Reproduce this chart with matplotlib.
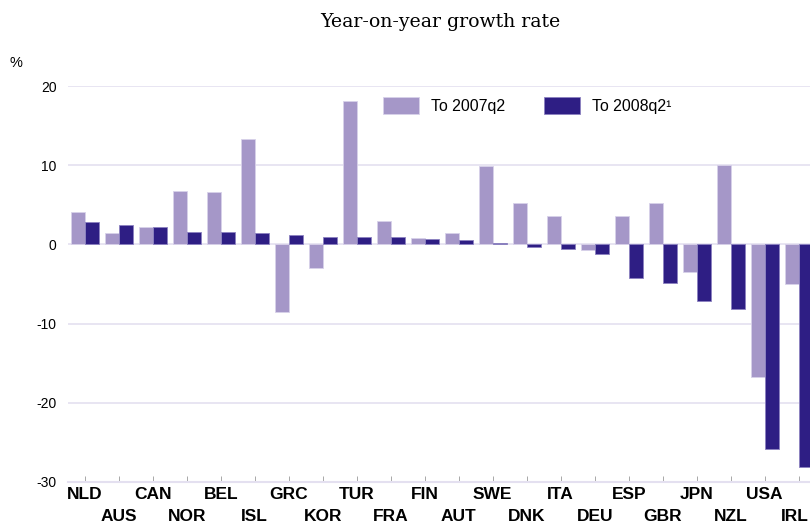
import numpy as np
import matplotlib.pyplot as plt
from matplotlib import font_manager

countries = ['NLD', 'AUS', 'CAN', 'NOR', 'BEL', 'ISL', 'GRC', 'KOR', 'TUR', 'FRA', 'FIN',
             'AUT', 'SWE', 'DNK', 'ITA', 'DEU', 'ESP', 'GBR', 'JPN', 'NZL', 'USA', 'IRL']
to_2007q2 = [4.1, 1.4, 2.2, 6.7, 6.6, 13.3, -8.5, -3.0, 18.2, 3.0, 0.8,
             1.5, 9.9, 5.2, 3.6, -0.7, 3.6, 5.2, -3.5, 10.1, -16.7, -5.0]
to_2008q2 = [2.9, 2.4, 2.2, 1.6, 1.6, 1.4, 1.2, 1.0, 0.9, 0.9, 0.7,
             0.6, 0.2, -0.3, -0.6, -1.2, -4.2, -4.9, -7.2, -8.2, -25.9, -28.1]
yticks = [-30, -20, -10, 0, 10, 20]

light = '#a597c8'
dark = '#2e1e84'
gridc = '#e4e0f0'

names = {f.name for f in font_manager.fontManager.ttflist}
narrow = 'Liberation Sans Narrow' if 'Liberation Sans Narrow' in names else 'Liberation Sans'

fig = plt.figure(figsize=(8.1, 5.24), dpi=100)
ax = fig.add_axes([67.7 / 810, 42.3 / 524, 748 / 810, 395.4 / 524])

x = np.arange(len(countries))
w = 0.41
ax.bar(x - w / 2, to_2007q2, w, color=light, edgecolor='#d8d2ea', linewidth=0.6,
       label='To 2007q2', zorder=3)
ax.bar(x + w / 2, to_2008q2, w, color=dark, edgecolor='#8c82c0', linewidth=0.6,
       label='To 2008q2\u00b9', zorder=3)

ax.set_xlim(-0.5, len(countries) - 0.5)
ax.set_ylim(-30, 20)
ax.set_yticks(yticks)
ax.set_yticklabels([str(v) for v in yticks], fontsize=10, family='Liberation Sans')
ax.tick_params(axis='y', length=0, pad=8)
for v in yticks[1:]:
    ax.axhline(v, color=gridc, lw=1.2, zorder=1)

ax.set_xticks(x)
ax.set_xticklabels([])
ax.tick_params(axis='x', length=4, width=0.6, color='#9a9a9a', direction='in')
for i, c in enumerate(countries):
    yoff = -3.5 if i % 2 == 0 else -19.5
    # last label sits on the figure edge, nudge it in a little
    xoff = -2.5 if i == len(countries) - 1 else 0
    ax.annotate(c, xy=(i, 0), xycoords=('data', 'axes fraction'), xytext=(xoff, yoff),
                textcoords='offset points', ha='center', va='top',
                fontsize=12.5, fontweight='bold', family=narrow, annotation_clip=False)

for s in ['top', 'right', 'left']:
    ax.spines[s].set_visible(False)
ax.spines['bottom'].set_color(gridc)
ax.spines['bottom'].set_linewidth(1.5)

fig.text(10 / 810, 1 - 63 / 524, '%', fontsize=10.5, family='Liberation Sans', va='center')
fig.text(440 / 810, 1 - 22 / 524, 'Year-on-year growth rate', fontsize=13.6,
         family='DejaVu Serif', ha='center', va='center')

leg = ax.legend(loc='upper left', bbox_to_anchor=(0.402, 1.008), ncol=2, frameon=False,
                prop={'family': 'Liberation Sans', 'size': 11.4},
                handlelength=2.3, handleheight=1.25, columnspacing=2.45, handletextpad=0.75)

fig.savefig('out.png', dpi=100)
